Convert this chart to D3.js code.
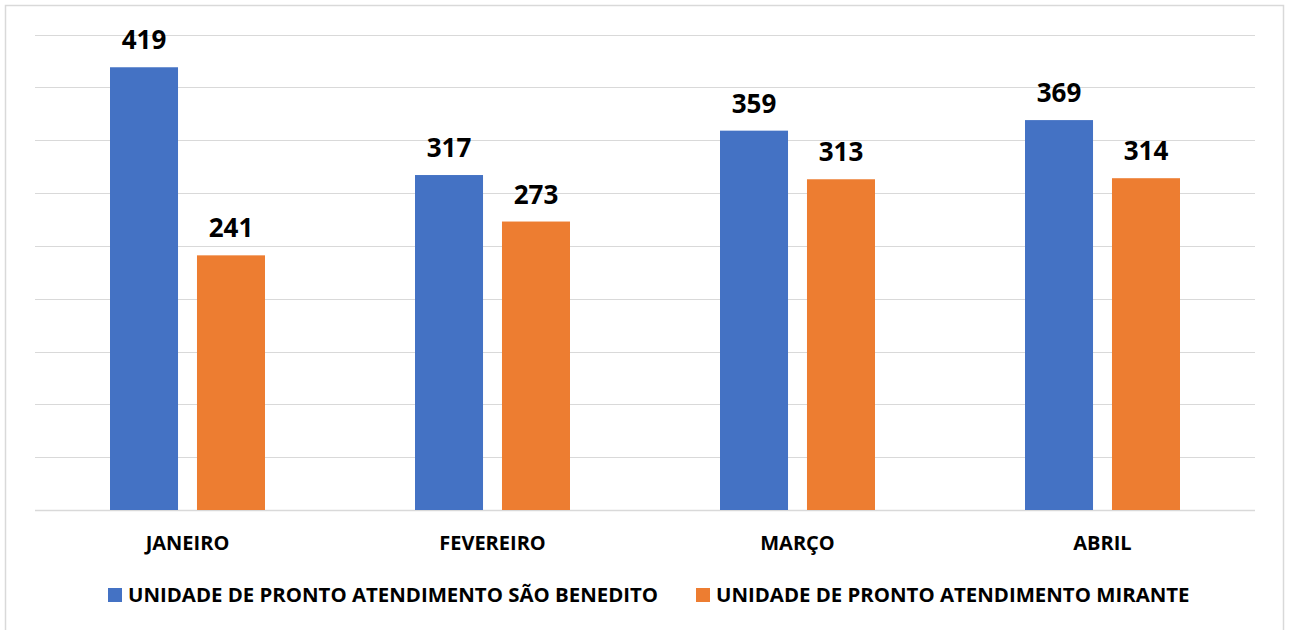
<!DOCTYPE html>
<html>
<head>
<meta charset="utf-8">
<script src="https://cdn.jsdelivr.net/npm/d3@7"></script>
<style>
    body { margin: 0; background: #fff; }
    text { font-family: "Open Sans", "Liberation Sans", sans-serif; font-weight: bold; fill: #000; }
</style>
</head>
<body>
<svg id="chart" width="1291" height="630"></svg>
<script>
const months = ['JANEIRO', 'FEVEREIRO', 'MARÇO', 'ABRIL'];
const seriesNames = ['UNIDADE DE PRONTO ATENDIMENTO SÃO BENEDITO', 'UNIDADE DE PRONTO ATENDIMENTO MIRANTE'];
const saoBenedito = [419, 317, 359, 369];
const mirante = [241, 273, 313, 314];
const colors = ['#4472c4', '#ed7d31'];
const gridTicks = d3.range(0, 451, 50);

const svg = d3.select('#chart');

// chart border
svg.append('rect')
    .attr('x', 5.5)
    .attr('y', 5.5)
    .attr('width', 1278)
    .attr('height', 640)
    .attr('fill', 'none')
    .attr('stroke', '#d9d9d9')
    .attr('stroke-width', 1.5);

const plotLeft = 35, plotRight = 1255, plotTop = 34.5, plotBottom = 510;

const x = d3.scaleBand()
    .domain(months)
    .range([plotLeft, plotRight]);

const sub = d3.scaleBand()
    .domain([0, 1])
    .range([x.bandwidth() / 2 - 77.5, x.bandwidth() / 2 + 77.5])
    .paddingInner(0.218)
    .paddingOuter(0);

const y = d3.scaleLinear()
    .domain([0, 450])
    .range([plotBottom, plotTop]);

svg.append('g')
    .selectAll('line')
    .data(gridTicks)
    .enter()
    .append('line')
    .attr('x1', plotLeft)
    .attr('x2', plotRight)
    .attr('y1', d => Math.round(y(d)) + 0.5)
    .attr('y2', d => Math.round(y(d)) + 0.5)
    .attr('stroke', '#d9d9d9')
    .attr('stroke-width', d => d === 0 ? 1.5 : 1.2);

const rows = months.map((m, i) => ({ month: m, values: [saoBenedito[i], mirante[i]] }));

const groups = svg.append('g')
    .selectAll('g')
    .data(rows)
    .enter()
    .append('g')
    .attr('transform', d => `translate(${x(d.month)},0)`);

groups.selectAll('rect')
    .data(d => d.values)
    .enter()
    .append('rect')
    .attr('x', (v, i) => sub(i))
    .attr('width', sub.bandwidth())
    .attr('y', v => y(v))
    .attr('height', v => y(0) - y(v))
    .attr('fill', (v, i) => colors[i]);

groups.selectAll('text')
    .data(d => d.values)
    .enter()
    .append('text')
    .attr('x', (v, i) => sub(i) + sub.bandwidth() / 2)
    .attr('y', v => y(v) - 18)
    .attr('text-anchor', 'middle')
    .attr('font-size', 26)
    .text(v => v);

// category axis labels
svg.append('g')
    .selectAll('text')
    .data(months)
    .enter()
    .append('text')
    .attr('x', d => x(d) + x.bandwidth() / 2)
    .attr('y', 550)
    .attr('text-anchor', 'middle')
    .attr('font-size', 20)
    .text(d => d);

// legend
const legendX = [108, 696];
const legend = svg.append('g')
    .selectAll('g')
    .data(seriesNames)
    .enter()
    .append('g')
    .attr('transform', (d, i) => `translate(${legendX[i]},0)`);

legend.append('rect')
    .attr('x', 0)
    .attr('y', 588)
    .attr('width', 14)
    .attr('height', 14)
    .attr('fill', (d, i) => colors[i]);

legend.append('text')
    .attr('x', 20)
    .attr('y', 602)
    .attr('font-size', 20.4)
    .text(d => d);
</script>
</body>
</html>
